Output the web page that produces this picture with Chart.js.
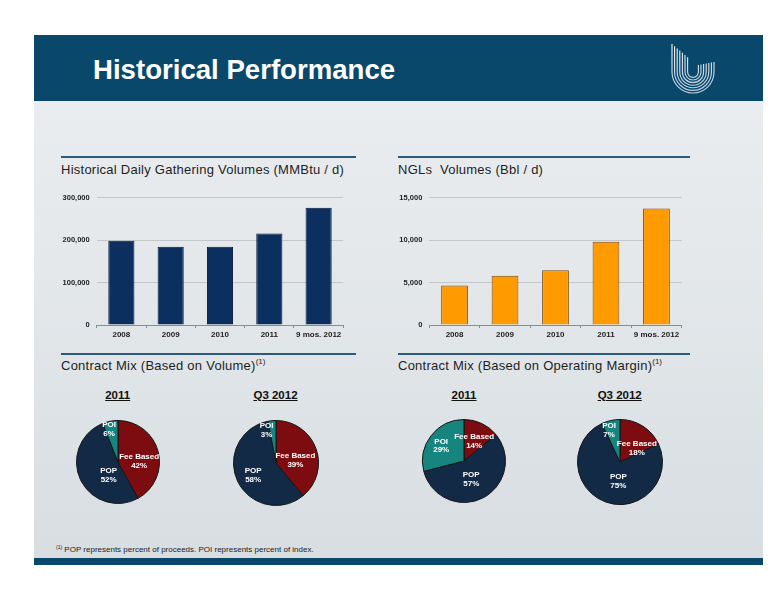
<!DOCTYPE html>
<html><head><meta charset="utf-8">
<script src="https://cdn.jsdelivr.net/npm/chart.js@4.4.0/dist/chart.umd.min.js"></script>
<style>
body{margin:0;width:776px;height:600px;background:#fff;font-family:"Liberation Sans",Arial,sans-serif;position:relative;overflow:hidden}
.abs{position:absolute}
#slide{left:34px;top:35px;width:729px;height:530px;background:linear-gradient(180deg,#eceef0 0%,#e4e8eb 45%,#d7dde1 100%)}
#header{left:34px;top:35px;width:729px;height:66px;background:#0a486b}
#title{left:93px;top:54px;color:#fff;font-weight:bold;font-size:27.6px;white-space:nowrap}
#footer{left:34px;top:558px;width:729px;height:7px;background:#0a486b}
.sec{font-size:13px;color:#1e1e1e;white-space:nowrap;letter-spacing:0.25px}
.sec sup{font-size:8px;vertical-align:6px;letter-spacing:0}
.line{height:2px;background:#2c5a7c}
.pt{font-weight:bold;font-size:11.5px;text-decoration:underline;color:#111;white-space:nowrap;transform:translateX(-50%)}
#note{left:56px;top:544px;font-size:8px;color:#222;white-space:nowrap}
#note sup{font-size:5px;vertical-align:3px}
canvas{position:absolute}
</style>
</head><body>
<div id="slide" class="abs"></div>
<div id="header" class="abs"></div>
<div id="title" class="abs">Historical Performance</div>
<canvas id="logo" width="60" height="64" style="left:664px;top:38px"></canvas>
<div id="footer" class="abs"></div>

<div class="abs line" style="left:61px;top:156px;width:295px"></div>
<div class="abs line" style="left:398px;top:156px;width:292px"></div>
<div class="abs sec" style="left:61px;top:162px">Historical Daily Gathering Volumes (MMBtu / d)</div>
<div class="abs sec" style="left:398px;top:162px">NGLs&nbsp; Volumes (Bbl / d)</div>

<div class="abs line" style="left:61px;top:353px;width:295px"></div>
<div class="abs line" style="left:398px;top:353px;width:292px"></div>
<div class="abs sec" style="left:61px;top:357px">Contract Mix (Based on Volume)<sup>(1)</sup></div>
<div class="abs sec" style="left:398px;top:357px">Contract Mix (Based on Operating Margin)<sup>(1)</sup></div>

<div class="abs pt" style="left:117.7px;top:389px">2011</div>
<div class="abs pt" style="left:275.5px;top:389px">Q3 2012</div>
<div class="abs pt" style="left:464px;top:389px">2011</div>
<div class="abs pt" style="left:619.7px;top:389px">Q3 2012</div>

<div id="note" class="abs"><sup>(1)</sup> POP represents percent of proceeds. POI represents percent of index.</div>

<canvas id="bar1" width="300" height="160" style="left:50px;top:186px"></canvas>
<canvas id="bar2" width="300" height="160" style="left:390px;top:186px"></canvas>
<canvas id="pie1" width="100" height="100" style="left:67.7px;top:411.7px"></canvas>
<canvas id="pie2" width="100" height="100" style="left:225.5px;top:413px"></canvas>
<canvas id="pie3" width="100" height="100" style="left:414px;top:411.3px"></canvas>
<canvas id="pie4" width="100" height="100" style="left:569.7px;top:412px"></canvas>

<script>
// ---- data ----
const years = ['2008', '2009', '2010', '2011', '9 mos. 2012'];
const gatheringVolumes = [198000, 184000, 184000, 215500, 276000];
const nglVolumes = [4650, 5800, 6450, 9800, 13700];
const gatheringTicks = [0, 100000, 200000, 300000];
const nglTicks = [0, 5000, 10000, 15000];
const mixLabels = ['Fee Based', 'POP', 'POI'];
const volume2011 = [42, 52, 6];
const volumeQ32012 = [39, 58, 3];
const margin2011 = [14, 57, 29];
const marginQ32012 = [18, 75, 7];

// ---- styles ----
const FONT = '"Liberation Sans", Arial, sans-serif';
const pieColors = ['#7d0c10', '#132a47', '#16857f'];

function barChart(id, values, ticksArr, fill, border, yWidth, padRight) {
  new Chart(document.getElementById(id), {
    type: 'bar',
    data: { labels: years, datasets: [{ data: values, backgroundColor: fill, borderColor: border, borderWidth: 1, barPercentage: 0.53, categoryPercentage: 1 }] },
    options: {
      responsive: false, animation: false,
      layout: { padding: { top: 10, right: padRight, left: 0, bottom: 0 } },
      plugins: { legend: { display: false }, tooltip: { enabled: false } },
      scales: {
        x: {
          grid: { display: true, drawOnChartArea: false, drawTicks: true, tickLength: 3, color: '#8a8d90' },
          border: { display: true, color: '#8a8d90', width: 1 },
          ticks: { color: '#222', font: { family: FONT, size: 8, weight: 'bold' }, padding: 2, maxRotation: 0 },
          afterFit(s) { s.height = 21; }
        },
        y: {
          min: ticksArr[0], max: ticksArr[ticksArr.length - 1],
          afterBuildTicks(s) { s.ticks = ticksArr.map(v => ({ value: v })); },
          ticks: { color: '#222', font: { family: FONT, size: 7.5, weight: 'bold' }, padding: 7, callback: v => v.toLocaleString('en-US') },
          grid: { color: '#c3c7cb', drawTicks: false, lineWidth: 1 },
          border: { display: false },
          afterFit(s) { s.width = yWidth; }
        }
      }
    }
  });
}

const sliceLabels = {
  id: 'sliceLabels',
  afterDatasetsDraw(chart, args, opts) {
    const ctx = chart.ctx;
    const meta = chart.getDatasetMeta(0);
    const ds = chart.data.datasets[0];
    meta.data.forEach((arc, i) => {
      const p = arc.getProps(['x', 'y', 'startAngle', 'endAngle', 'outerRadius'], true);
      const mid = (p.startAngle + p.endAngle) / 2 + (opts.shift[i] * Math.PI / 180);
      const d = p.outerRadius * opts.radius[i];
      const px = p.x + Math.cos(mid) * d, py = p.y + Math.sin(mid) * d;
      ctx.save();
      ctx.fillStyle = '#fff';
      ctx.font = 'bold 8px ' + FONT;
      ctx.textAlign = 'center';
      ctx.textBaseline = 'middle';
      ctx.fillText(chart.data.labels[i], px, py - 4.3);
      ctx.fillText(ds.data[i] + '%', px, py + 4.3);
      ctx.restore();
    });
  }
};

function pieChart(id, values, r, labelOpts) {
  new Chart(document.getElementById(id), {
    type: 'pie',
    data: { labels: mixLabels, datasets: [{ data: values, backgroundColor: pieColors, borderColor: '#151515', borderWidth: 1 }] },
    options: {
      responsive: false, animation: false, radius: r,
      layout: { padding: 0 },
      plugins: { legend: { display: false }, tooltip: { enabled: false }, sliceLabels: labelOpts }
    },
    plugins: [sliceLabels]
  });
}

barChart('bar1', gatheringVolumes, gatheringTicks, '#0b2f5e', '#06193a', 46.7, 6.7);
barChart('bar2', nglVolumes, nglTicks, '#ff9a00', '#7a4a12', 39.3, 8.3);

pieChart('pie1', volume2011, 41.5, { radius: [0.51, 0.39, 0.82], shift: [11.7, -29.6, -4.5] });
pieChart('pie2', volumeQ32012, 42.5, { radius: [0.46, 0.61, 0.80], shift: [12.6, -3.1, -10.7] });
pieChart('pie3', margin2011, 41.5, { radius: [0.53, 0.48, 0.66], shift: [2.3, 5.7, -4.2] });
pieChart('pie4', marginQ32012, 42.5, { radius: [0.51, 0.46, 0.79], shift: [18.7, -14.9, -6.4] });

// ---- logo (decorative) ----
(function () {
  const c = document.getElementById('logo').getContext('2d');
  const cx = 29, cy = 34;
  for (let i = 0; i < 7; i++) {
    const r = 21 - i * 2.6;
    const g = c.createLinearGradient(0, 0, 0, 64);
    g.addColorStop(0, '#ffffff'); g.addColorStop(1, '#a9c2d6');
    c.strokeStyle = g; c.lineWidth = 1.1;
    c.beginPath();
    const topL = 6 + i * 2.2, topR = 24 + i * 0.5;
    c.moveTo(cx - r, topL);
    c.lineTo(cx - r, cy);
    c.arc(cx, cy, r, Math.PI, 0, true);
    c.lineTo(cx + r, topR);
    c.stroke();
  }
})();
</script>
</body></html>
